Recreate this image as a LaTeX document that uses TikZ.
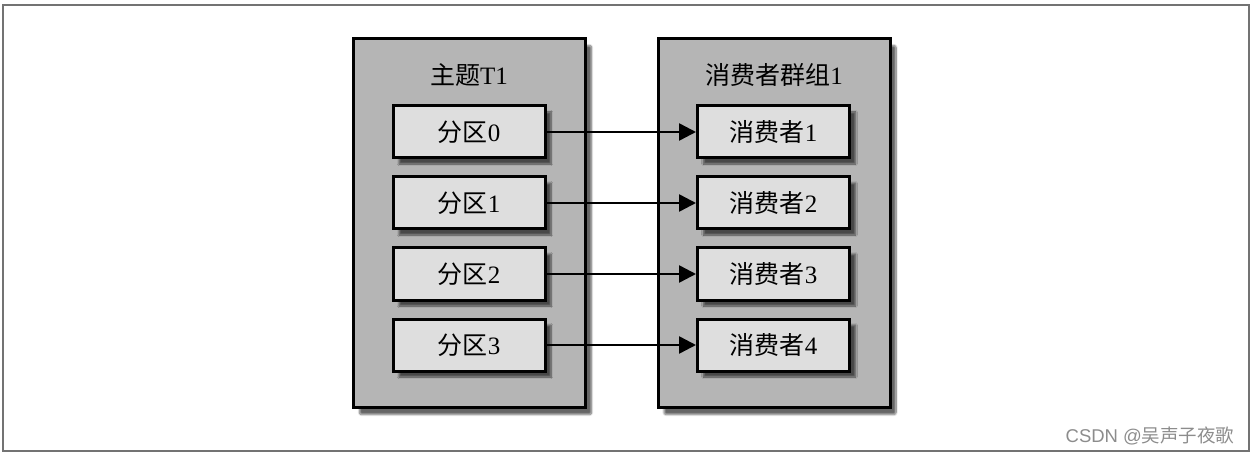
\documentclass[tikz,border=0pt]{standalone}
\usepackage{fontspec}
\setmainfont{Liberation Serif}
\newfontfamily\cjk{Noto Sans CJK SC}
\newfontfamily\wm{Liberation Sans}
\usetikzlibrary{arrows.meta,shadows.blur}
\begin{document}
\begin{tikzpicture}[x=1pt,y=-1pt,
  container/.style={draw=black,line width=3pt,fill=black!29,minimum width=232pt,minimum height=369pt,
    blur shadow={shadow xshift=6pt,shadow yshift=-7pt,shadow blur steps=10,shadow blur extra rounding=2pt,shadow opacity=60}},
  itembox/.style={draw=black,line width=3pt,fill=black!13,minimum width=152pt,minimum height=52pt,
    font=\fontsize{25}{28}\selectfont,
    blur shadow={shadow xshift=6pt,shadow yshift=-6pt,shadow blur steps=8,shadow opacity=60}},
  title/.style={font=\fontsize{25}{28}\selectfont},
  conn/.style={line width=2.5pt,-{Triangle[length=17pt,width=17pt]}}]
\useasboundingbox (0,0) rectangle (1252,454);
\draw[line width=1.5pt,draw=black!55] (3,5) rectangle (1249,451);
\node[container] (topic) at (469.5,223) {};
\node[container] (group) at (774,223) {};
\node[title] (ttitle) at (469,75) {{\cjk 主题}T1};
\node[title] (gtitle) at (774,75) {{\cjk 消费者群组}1};
\foreach \i/\y in {0/132,1/203,2/274,3/345}{
  \node[itembox] (p\i) at (469,\y) {{\cjk 分区}\i};
}
\foreach \i/\y in {1/132,2/203,3/274,4/345}{
  \node[itembox] (c\i) at (773.5,\y) {{\cjk 消费者}\i};
}
\draw[conn] (p0) -- (c1);
\draw[conn] (p1) -- (c2);
\draw[conn] (p2) -- (c3);
\draw[conn] (p3) -- (c4);
\node[anchor=east,text=black!45,font=\wm\fontsize{18.5}{20}\selectfont] (wm) at (1238,436) {CSDN @{\cjk 吴声子夜歌}};
\end{tikzpicture}
\end{document}
